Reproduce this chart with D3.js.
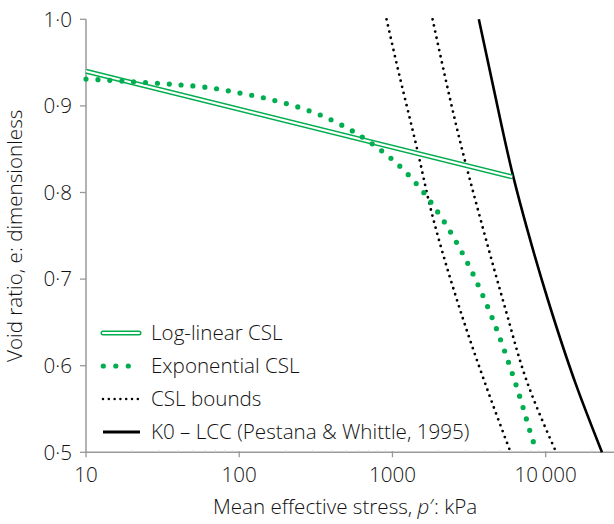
<!DOCTYPE html>
<html>
<head>
<meta charset="utf-8">
<script src="https://cdn.jsdelivr.net/npm/d3@7"></script>
<style>
html,body{margin:0;padding:0;background:#fff;}
svg{display:block;}
text{font-family:"Open Sans",sans-serif;font-weight:300;fill:#111;}
</style>
</head>
<body>
<svg id="chart" width="614" height="524"></svg>
<script>
// ---- data (p' in kPa, e dimensionless) ----
const logLinearP = [10, 6050];
const logLinearE = [0.940, 0.818];

const expP = [10, 20, 50, 100, 200, 300, 500, 700, 1000, 1500, 2000, 3000, 4000, 5000, 6000, 7000, 8000, 8750];
const expE = [0.931, 0.928, 0.923, 0.915, 0.903, 0.893, 0.875, 0.859, 0.838, 0.806, 0.776, 0.723, 0.676, 0.633, 0.593, 0.556, 0.521, 0.500];

const lowerBoundP = [915, 1064, 1471, 1754, 2722, 4111, 5900];
const lowerBoundE = [1.000, 0.949, 0.845, 0.785, 0.668, 0.575, 0.500];

const upperBoundP = [1827, 2891, 3716, 5408, 7497, 11700];
const upperBoundE = [1.000, 0.845, 0.772, 0.668, 0.583, 0.500];

const k0P = [3661, 4500, 6150, 7700, 10380, 15700, 23300];
const k0E = [1.000, 0.926, 0.818, 0.753, 0.675, 0.579, 0.500];

const xTicks = [10, 100, 1000, 10000];
const xTickLabels = ["10", "100", "1000", "10\u2009000"];
const xMinorTicks = [20,30,40,50,60,70,80,90,200,300,400,500,600,700,800,900,2000,3000,4000,5000,6000,7000,8000,9000,20000];
const yTicks = [0.5, 0.6, 0.7, 0.8, 0.9, 1.0];
const yTickLabels = ["0\u00b75", "0\u00b76", "0\u00b77", "0\u00b78", "0\u00b79", "1\u00b70"];

const legendLabels = ["Log-linear CSL", "Exponential CSL", "CSL bounds", "K0 \u2013 LCC (Pestana & Whittle, 1995)"];

// ---- drawing ----
const svg = d3.select("#chart");
const green = "#00ad4f";
const axisGrey = "#999999";
const fs = 20.6;

const x = d3.scaleLog().domain([10, 10000]).range([86, 545.7]);
const y = d3.scaleLinear().domain([0.5, 1.0]).range([452.3, 19.3]);
const xMaxPx = 614;

const line = d3.line().x(d => x(d[0])).y(d => y(d[1])).curve(d3.curveMonotoneY);
const zip = (a, b) => a.map((v, i) => [v, b[i]]);

// axes
const ax = svg.append("g");
ax.append("line").attr("x1", x(10)).attr("x2", xMaxPx).attr("y1", y(0.5)).attr("y2", y(0.5))
  .attr("stroke", axisGrey).attr("stroke-width", 1.5);
ax.append("line").attr("x1", x(10)).attr("x2", x(10)).attr("y1", y(0.5)).attr("y2", y(1.0))
  .attr("stroke", axisGrey).attr("stroke-width", 1.5);

ax.selectAll(".xminor").data(xMinorTicks).enter().append("line")
  .attr("x1", d => x(d)).attr("x2", d => x(d)).attr("y1", y(0.5) - 2).attr("y2", y(0.5))
  .attr("stroke", "#cfcfcf").attr("stroke-width", 1);
ax.selectAll(".xmajor").data(xTicks).enter().append("line")
  .attr("x1", d => x(d)).attr("x2", d => x(d)).attr("y1", y(0.5) - 1).attr("y2", y(0.5) + 5)
  .attr("stroke", axisGrey).attr("stroke-width", 1.3);
ax.selectAll(".xlab").data(xTicks).enter().append("text")
  .attr("x", d => x(d)).attr("y", 482).attr("text-anchor", "middle")
  .attr("font-size", fs).text((d, i) => xTickLabels[i]);

ax.selectAll(".ytick").data(yTicks).enter().append("line")
  .attr("x1", x(10) - 6).attr("x2", x(10)).attr("y1", d => y(d)).attr("y2", d => y(d))
  .attr("stroke", axisGrey).attr("stroke-width", 1.3);
ax.selectAll(".ylab").data(yTicks).enter().append("text")
  .attr("x", 72).attr("y", d => y(d)).attr("dy", "0.35em").attr("text-anchor", "end")
  .attr("font-size", fs).text((d, i) => yTickLabels[i]);

// axis titles
const xt = svg.append("text").attr("x", 345).attr("y", 514).attr("text-anchor", "middle").attr("font-size", fs);
xt.append("tspan").text("Mean effective stress, ");
xt.append("tspan").attr("font-style", "italic").text("p");
xt.append("tspan").text("\u2032: kPa");

svg.append("text").attr("transform", "translate(22," + ((y(0.5) + y(1.0)) / 2) + ") rotate(-90)")
  .attr("text-anchor", "middle").attr("font-size", fs).text("Void ratio, e: dimensionless");

// series
const plot = svg.append("g");
// CSL bounds
[zip(lowerBoundP, lowerBoundE), zip(upperBoundP, upperBoundE)].forEach(pts => {
  plot.append("path").attr("d", line(pts)).attr("fill", "none").attr("stroke", "#000")
    .attr("stroke-width", 2.8).attr("stroke-linecap", "round").attr("stroke-dasharray", "0 6.3");
});
// K0 LCC
plot.append("path").attr("d", line(zip(k0P, k0E))).attr("fill", "none").attr("stroke", "#000")
  .attr("stroke-width", 2.6);
// Log-linear CSL (double line)
const ll = d3.line().x(d => x(d[0])).y(d => y(d[1]))(zip(logLinearP, logLinearE));
plot.append("path").attr("d", ll).attr("fill", "none").attr("stroke", green).attr("stroke-width", 5);
plot.append("path").attr("d", ll).attr("fill", "none").attr("stroke", "#fff").attr("stroke-width", 2.2);
// Exponential CSL
plot.append("path").attr("d", line(zip(expP, expE))).attr("fill", "none").attr("stroke", green)
  .attr("stroke-width", 5.2).attr("stroke-linecap", "round").attr("stroke-dasharray", "0 11.9");

// legend
const lg = svg.append("g");
const ly = [333, 366, 399, 432];
lg.append("line").attr("x1", 103).attr("x2", 139).attr("y1", ly[0]).attr("y2", ly[0])
  .attr("stroke", green).attr("stroke-width", 5).attr("stroke-linecap", "round");
lg.append("line").attr("x1", 103).attr("x2", 139).attr("y1", ly[0]).attr("y2", ly[0])
  .attr("stroke", "#fff").attr("stroke-width", 2.2).attr("stroke-linecap", "round");
lg.append("line").attr("x1", 103.3).attr("x2", 130).attr("y1", ly[1]).attr("y2", ly[1])
  .attr("stroke", green).attr("stroke-width", 5.2).attr("stroke-linecap", "round").attr("stroke-dasharray", "0 12.5");
lg.append("line").attr("x1", 103).attr("x2", 140).attr("y1", ly[2]).attr("y2", ly[2])
  .attr("stroke", "#000").attr("stroke-width", 2.5).attr("stroke-linecap", "round").attr("stroke-dasharray", "0 5.8");
lg.append("line").attr("x1", 103).attr("x2", 140).attr("y1", ly[3]).attr("y2", ly[3])
  .attr("stroke", "#000").attr("stroke-width", 3);
lg.selectAll(".lt").data(legendLabels).enter().append("text")
  .attr("x", 151).attr("y", (d, i) => ly[i]).attr("dy", "0.35em").attr("font-size", fs).text(d => d);
</script>
</body>
</html>
